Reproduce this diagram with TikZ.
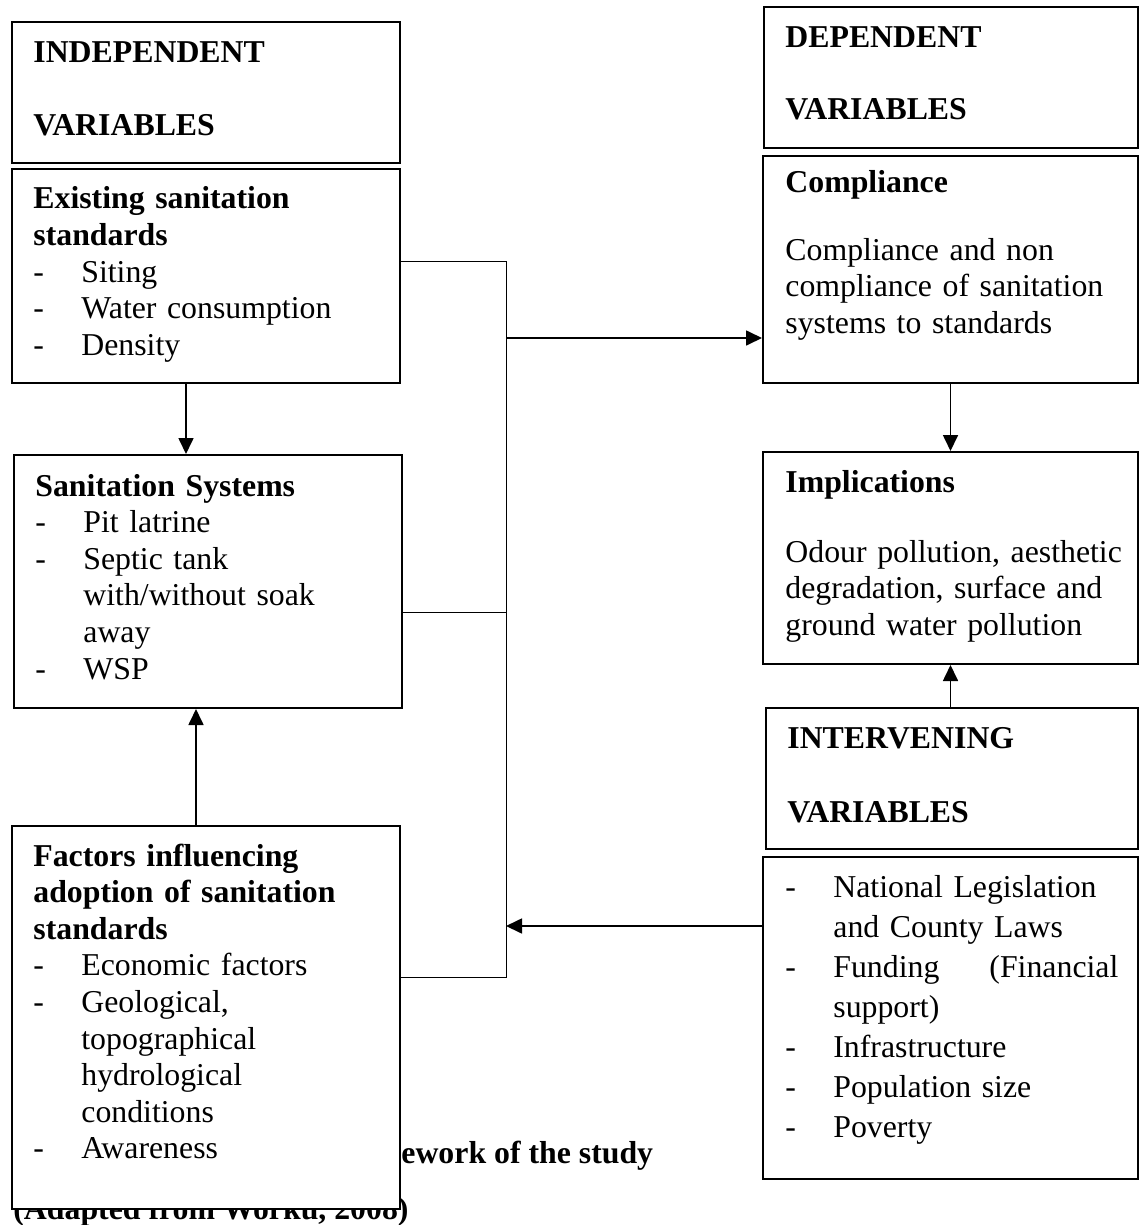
\documentclass[tikz,border=0pt]{standalone}
\usepackage{fontspec}
\setmainfont{Liberation Serif}
\usetikzlibrary{arrows.meta,fit}
\newcommand{\dashitem}[1]{\makebox[24pt][l]{-}#1}
\newcommand{\contline}{\hspace*{24pt}}
\begin{document}
\begin{tikzpicture}[x=0.5pt,y=-0.5pt,
  box/.style={draw, line width=1pt, fill=white, inner sep=0pt},
  txt/.style={anchor=base west, inner sep=0pt, text width=#1,
    font=\fontsize{15.9}{18.3}\selectfont},
  conn/.style={line width=0.5pt},
  arr/.style={line width=0.85pt, -{Triangle[length=8pt,width=7.5pt]}},
  captxt/.style={anchor=base west, inner sep=0pt, font=\fontsize{15.9}{18.3}\selectfont\bfseries}
]
\useasboundingbox (0,0) rectangle (1139,1225);

% caption (partly hidden behind the factors box)
\node[captxt] (cap1) at (401,1163) {ework of the study};
\node[captxt] (cap2) at (13,1219) {(Adapted from Worku, 2008)};

% left column boxes
\node[box, fit={(12,22) (400,163)}] (ind) {};
\node[box, fit={(12,169) (400,383)}] (exist) {};
\node[box, fit={(14,455) (402,708)}] (san) {};
\node[box, fit={(12,826) (400,1209)}] (fact) {};

% right column boxes
\node[box, fit={(764,7) (1138,148)}] (dep) {};
\node[box, fit={(763,156) (1138,383)}] (comp) {};
\node[box, fit={(763,452) (1138,664)}] (impl) {};
\node[box, fit={(766,708) (1138,849)}] (intv) {};
\node[box, fit={(763,857) (1138,1179)}] (intl) {};

% texts
\node[txt=180pt] (indT) at (33,63) {\bfseries INDEPENDENT\\[18.2pt]VARIABLES};
\node[txt=180pt] (existT) at (33,209) {\textbf{Existing sanitation}\\\textbf{standards}\\
  \dashitem{Siting}\\\dashitem{Water consumption}\\\dashitem{Density}};
\node[txt=180pt] (sanT) at (35,496) {\textbf{Sanitation Systems}\\
  \dashitem{Pit latrine}\\\dashitem{Septic tank}\\\contline with/without soak\\\contline away\\\dashitem{WSP}};
\node[txt=180pt] (factT) at (33,866) {\textbf{Factors influencing}\\\textbf{adoption of sanitation}\\\textbf{standards}\\
  \dashitem{Economic factors}\\\dashitem{Geological,}\\\contline topographical\\\contline hydrological\\\contline conditions\\\dashitem{Awareness}};

\node[txt=172pt] (depT) at (785,48) {\bfseries DEPENDENT\\[17.7pt]VARIABLES};
\node[txt=172pt] (compT) at (785,193) {\textbf{Compliance}\\[15.2pt]
  Compliance and non\\compliance of sanitation\\systems to standards};
\node[txt=172pt] (implT) at (785,492) {\textbf{Implications}\\[16.7pt]
  Odour pollution, aesthetic\\degradation, surface and\\ground water pollution};
\node[txt=172pt] (intvT) at (787,748) {\bfseries INTERVENING\\[18.7pt]VARIABLES};
\node[txt=172pt, font=\fontsize{15.9}{20}\selectfont] (intlT) at (785,897) {
  \dashitem{National Legislation}\\\contline and County Laws\\
  \dashitem{\makebox[142.5pt][l]{Funding\hfill(Financial}}\\\contline support)\\
  \dashitem{Infrastructure}\\\dashitem{Population size}\\\dashitem{Poverty}};

% junction coordinates
\coordinate (j1) at (506,261);
\coordinate (j2) at (506,977);
\coordinate (j3) at (506,612);
\coordinate (j4) at (506,338);
\coordinate (j5) at (506,926);
\coordinate (xa) at (186,0);
\coordinate (xb) at (196,0);

% connectors
\draw[conn] (exist.east |- j1) -- (j1) -- (j2) -- (fact.east |- j2);
\draw[conn] (san.east |- j3) -- (j3);
\draw[arr] (j4) -- (comp.west |- j4);
\draw[arr] (intl.west |- j5) -- (j5);
\draw[arr] (exist.south -| xa) -- (san.north -| xa);
\draw[arr] (fact.north -| xb) -- (san.south -| xb);
\draw[arr] (comp.south -| impl.north) -- (impl.north);
\draw[arr] (intv.north -| impl.south) -- (impl.south);
\end{tikzpicture}
\end{document}
